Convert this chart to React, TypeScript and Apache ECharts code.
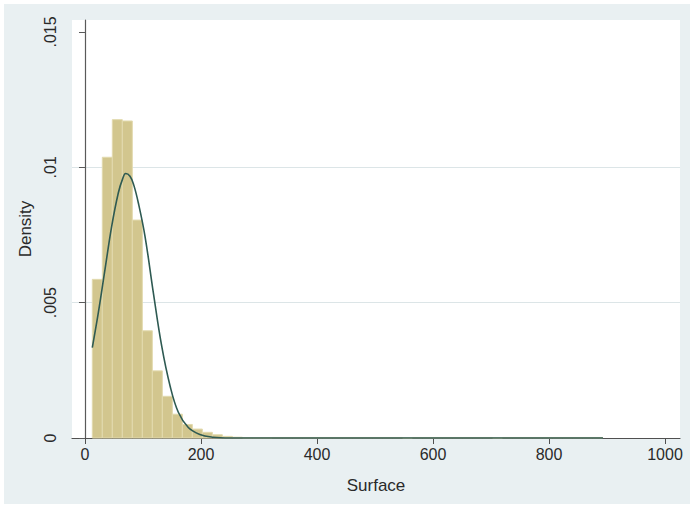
import React, { useEffect, useRef } from "react";
import * as echarts from "echarts";

// Histogram bins (Surface), density per bin
const binStart = 12.6;
const binWidth = 17.25;
const binDensity = [
  0.00586, 0.01037, 0.01176, 0.01171, 0.00805, 0.00396, 0.00248, 0.00154,
  0.00088, 0.0005, 0.00033, 0.00021, 0.00012, 0.00006, 0.00003, 0.00001,
  0.00001, 0.00001, 0.00002, 0.00002, 0.00002, 0.00002, 0.00002, 0.00002,
  0.00002, 0.00002, 0.00002, 0.00002, 0.00002, 0.00002, 0.00002, 0.0,
  0.00002, 0.00002, 0.00002, 0.00002, 0.00002, 0.00002, 0.00002, 0.00002,
  0.0, 0.00002, 0.00002, 0.00002, 0.00002, 0.00002, 0.00002, 0.00002,
  0.00002, 0.00002, 0.00002,
];

// Overlaid density curve
const curveX = [
  12.6, 23, 34.5, 46, 57.4, 65, 70.1, 77.6, 84, 91.9, 103.4, 117.8, 132.2,
  146.6, 160.9, 178.1, 198, 220, 250, 893,
];
const curveY = [
  0.00334, 0.00463, 0.00623, 0.00782, 0.00905, 0.00958, 0.00977, 0.00967,
  0.00935, 0.00869, 0.00746, 0.00537, 0.0034, 0.00193, 0.00095, 0.00039,
  0.00013, 0.00003, 0.0, 0.0,
];

const xTicks = [0, 200, 400, 600, 800, 1000];
const xTickLabels = ["0", "200", "400", "600", "800", "1000"];
const yTicks = [0, 0.005, 0.01, 0.015];
const yTickLabels = ["0", ".005", ".01", ".015"];
const yGridStep = 0.005;

export default function App() {
  const ref = useRef<HTMLDivElement>(null);

  useEffect(() => {
    if (!ref.current) return;
    const chart = echarts.init(ref.current, null, { renderer: "svg" });

    const barData = binDensity.map((d, i) => [
      binStart + i * binWidth,
      binStart + (i + 1) * binWidth,
      d,
    ]);
    const curveData = curveX.map((x, i) => [x, curveY[i]]);
    const font = "'Liberation Sans', Arial, sans-serif";
    const pick = (ticks: number[], labels: string[]) => (v: number) => {
      const idx = ticks.findIndex((t) => Math.abs(t - v) < 1e-9);
      return idx >= 0 ? labels[idx] : "";
    };
    const yMax = 0.01544;

    chart.setOption({
      animation: false,
      backgroundColor: "#ffffff",
      graphic: [
        {
          type: "rect",
          z: -10,
          silent: true,
          shape: { x: 4, y: 4, width: 686, height: 500 },
          style: { fill: "#E9F0F2" },
        },
        {
          type: "rect",
          z: -9,
          silent: true,
          shape: { x: 72, y: 20, width: 608, height: 418 },
          style: { fill: "#ffffff" },
        },
      ],
      grid: { left: 72, right: 14, top: 20, bottom: 68, containLabel: false },
      xAxis: {
        type: "value",
        min: -22.41,
        max: 1025.86,
        name: "Surface",
        nameLocation: "middle",
        nameGap: 39,
        nameTextStyle: { fontFamily: font, fontSize: 17, color: "#2a2a2a" },
        axisLine: { show: true, onZero: false, lineStyle: { color: "#505050", width: 1.2 } },
        axisTick: {
          show: true,
          length: 6,
          customValues: xTicks,
          lineStyle: { color: "#505050", width: 1 },
        },
        axisLabel: {
          customValues: xTicks,
          margin: 8,
          fontFamily: font,
          fontSize: 16,
          color: "#2a2a2a",
          formatter: pick(xTicks, xTickLabels),
        },
        splitLine: { show: false },
      },
      yAxis: [
        {
          type: "value",
          min: 0,
          max: yMax,
          name: "Density",
          nameLocation: "middle",
          nameRotate: 90,
          nameGap: 36,
          nameTextStyle: { fontFamily: font, fontSize: 17, color: "#2a2a2a" },
          axisLine: { show: true, lineStyle: { color: "#5a5a5a", width: 1.2 } },
          axisTick: {
            show: true,
            length: 6,
            customValues: yTicks,
            lineStyle: { color: "#5a5a5a", width: 1 },
          },
          axisLabel: {
            customValues: yTicks,
            rotate: 90,
            margin: 14,
            fontFamily: font,
            fontSize: 16,
            color: "#2a2a2a",
            formatter: pick(yTicks, yTickLabels),
          },
          splitLine: { show: false },
        },
        {
          type: "value",
          min: 0,
          max: yMax,
          interval: yGridStep,
          position: "left",
          axisLine: { show: false },
          axisTick: { show: false },
          axisLabel: { show: false },
          splitLine: {
            show: true,
            lineStyle: {
              color: ["rgba(0,0,0,0)", "#DCE5E7", "#DCE5E7", "rgba(0,0,0,0)"],
              width: 1,
            },
          },
        },
      ],
      series: [
        {
          type: "custom",
          z: 2,
          data: barData,
          renderItem: (params: any, api: any) => {
            const s = api.coord([api.value(0), api.value(2)]);
            const e = api.coord([api.value(1), 0]);
            return {
              type: "rect",
              shape: { x: s[0], y: s[1], width: e[0] - s[0], height: e[1] - s[1] },
              style: { fill: "#D2C68E", stroke: "#E2DAAE", lineWidth: 1 },
            };
          },
        },
        {
          type: "line",
          z: 3,
          data: curveData,
          smooth: 0.4,
          showSymbol: false,
          lineStyle: { color: "#2E5A52", width: 1.6 },
        },
      ],
    });

    return () => chart.dispose();
  }, []);

  return (
    <div
      ref={ref}
      style={{ position: "fixed", left: 0, top: 0, width: 694, height: 506 }}
    />
  );
}
